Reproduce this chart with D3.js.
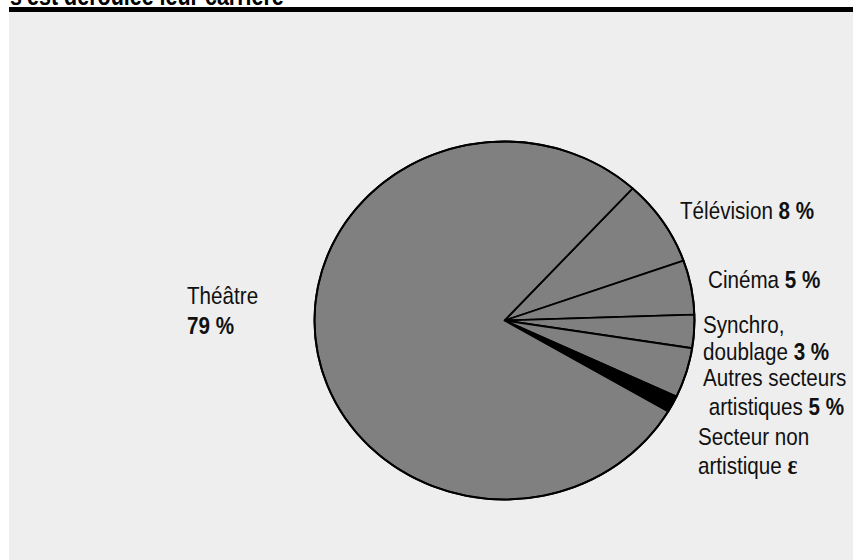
<!DOCTYPE html>
<html>
<head>
<meta charset="utf-8">
<script src="https://cdn.jsdelivr.net/npm/d3@7"></script>
<style>
  html, body { margin: 0; padding: 0; background: #ffffff; }
  svg { display: block; }
  text { font-family: "Liberation Sans", Arial, sans-serif; }
</style>
</head>
<body>
<svg id="chart" width="853" height="560"></svg>
<script>
// ---- data ----
const categories = ["Télévision", "Cinéma", "Synchro, doublage", "Autres secteurs artistiques", "Secteur non artistique", "Théâtre"];
const values = [7.8, 4.9, 3.0, 4.5, 1.5, 78.3];
const valueLabels = ["8 %", "5 %", "3 %", "5 %", "ε", "79 %"];
const labelLines = [
  ["Télévision "],
  ["Cinéma "],
  ["Synchro,", "doublage "],
  ["Autres secteurs", " artistiques "],
  ["Secteur non", "artistique "],
  ["Théâtre", ""]
];
const fills = ["#808080", "#808080", "#808080", "#808080", "#000000", "#808080"];
const titleText = "s'est déroulée leur carrière";

// ---- layout ----
const W = 853, H = 560;
const SX = 0.86; // condensed look
const svg = d3.select("#chart");

// panel background
svg.append("rect").attr("x", 9).attr("y", 12).attr("width", W - 9).attr("height", H - 12).attr("fill", "#eeeeee");
// black rule
svg.append("rect").attr("x", 9).attr("y", 7).attr("width", W - 9).attr("height", 5).attr("fill", "#000");
// cut-off title
svg.append("text")
  .attr("transform", `translate(10,4.5) scale(${SX},1)`)
  .attr("font-size", 25).attr("font-weight", "bold").attr("fill", "#000").text(titleText);

// pie
const cx = 504.5, cy = 320.5, rx = 190, ry = 179;
const a0 = 42.4 * Math.PI / 180;
const pie = d3.pie().sort(null).value(d => d).startAngle(a0).endAngle(a0 + 2 * Math.PI);
const arcs = pie(values);
const arc = d3.arc().innerRadius(0).outerRadius(ry);

const g = svg.append("g").attr("transform", `translate(${cx},${cy}) scale(${rx / ry},1)`);
g.selectAll("path.slice").data(arcs).join("path")
  .attr("class", "slice")
  .attr("d", arc)
  .attr("fill", (d, i) => fills[i])
  .attr("stroke", "#000")
  .attr("stroke-width", 1.8)
  .attr("stroke-linejoin", "round")
  .attr("vector-effect", "non-scaling-stroke");
// outer border
g.append("circle").attr("r", ry).attr("fill", "none").attr("stroke", "#000").attr("stroke-width", 2).attr("vector-effect", "non-scaling-stroke");

// labels
const labelPos = [
  { x: 680, y: 219, dy: 0 },
  { x: 708, y: 288, dy: 0 },
  { x: 703, y: 333, dy: 27 },
  { x: 703, y: 386, dy: 29 },
  { x: 698, y: 445, dy: 29 },
  { x: 187, y: 304, dy: 30 }
];
const fs = 24;
labelLines.forEach((lines, i) => {
  const p = labelPos[i];
  lines.forEach((ln, j) => {
    const isLast = j === lines.length - 1;
    const t = svg.append("text")
      .attr("transform", `translate(${p.x},${p.y + j * p.dy}) scale(${SX},1)`)
      .attr("font-size", fs).attr("fill", "#111")
      .attr("xml:space", "preserve");
    if (ln) t.append("tspan").text(ln);
    if (isLast) {
      const isEps = valueLabels[i] === "ε";
      t.append("tspan").attr("font-weight", "bold")
        .attr("font-family", isEps ? "'Liberation Serif', 'DejaVu Serif', serif" : null)
        .attr("font-size", isEps ? 27 : null)
        .text(valueLabels[i]);
    }
  });
});
</script>
</body>
</html>
